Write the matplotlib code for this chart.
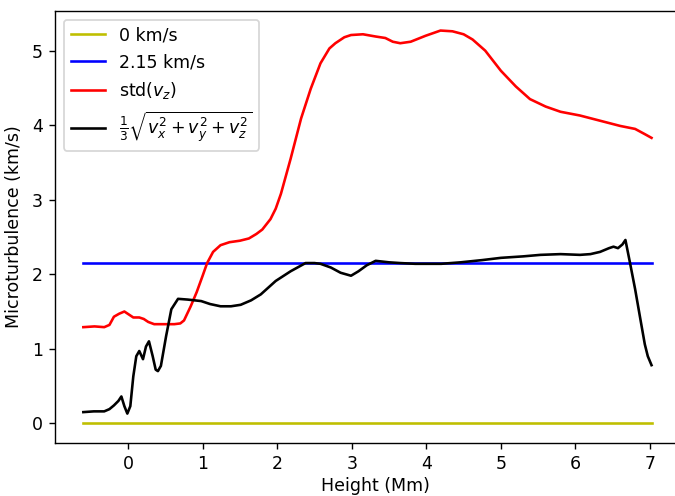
import numpy as np
import matplotlib
matplotlib.use("Agg")
import matplotlib.pyplot as plt

# height grid ends and constant reference levels
h_min, h_max = -0.60, 7.02
v_zero = 0.0
v_const = 2.15

# std(v_z) against height
h_std = [-0.60, -0.45, -0.32, -0.25, -0.19, -0.12, -0.05, 0.01, 0.07, 0.15,
         0.21, 0.27, 0.35, 0.50, 0.62, 0.70, 0.75, 0.84, 0.92, 1.00,
         1.06, 1.14, 1.24, 1.36, 1.50, 1.62, 1.72, 1.80, 1.91, 1.98,
         2.05, 2.18, 2.32, 2.45, 2.58, 2.70, 2.78, 2.90, 2.99, 3.15,
         3.32, 3.45, 3.55, 3.65, 3.79, 3.99, 4.19, 4.35, 4.50, 4.62,
         4.79, 5.00, 5.20, 5.39, 5.60, 5.80, 6.06, 6.33, 6.60, 6.80,
         6.93, 7.02]
v_std = [1.29, 1.30, 1.29, 1.32, 1.43, 1.47, 1.50, 1.46, 1.42, 1.42,
         1.40, 1.36, 1.33, 1.33, 1.33, 1.34, 1.38, 1.57, 1.76, 1.98,
         2.15, 2.30, 2.39, 2.43, 2.45, 2.48, 2.54, 2.60, 2.74, 2.88,
         3.08, 3.55, 4.09, 4.49, 4.83, 5.03, 5.10, 5.18, 5.21, 5.22,
         5.19, 5.17, 5.12, 5.10, 5.12, 5.20, 5.27, 5.26, 5.22, 5.15,
         5.00, 4.73, 4.52, 4.35, 4.25, 4.18, 4.13, 4.06, 3.99, 3.95,
         3.88, 3.83]

# one third of the velocity magnitude against height
h_rms = [-0.60, -0.46, -0.32, -0.25, -0.19, -0.13, -0.09, -0.05, -0.01, 0.03,
         0.07, 0.11, 0.15, 0.20, 0.24, 0.28, 0.33, 0.37, 0.40, 0.44,
         0.51, 0.58, 0.67, 0.80, 0.98, 1.10, 1.24, 1.38, 1.51, 1.65,
         1.78, 1.98, 2.18, 2.38, 2.50, 2.58, 2.72, 2.85, 2.99, 3.09,
         3.20, 3.32, 3.50, 3.65, 3.85, 4.06, 4.20, 4.46, 4.75, 5.00,
         5.30, 5.53, 5.80, 6.06, 6.20, 6.33, 6.45, 6.51, 6.57, 6.63,
         6.67, 6.73, 6.80, 6.87, 6.93, 6.97, 7.02]
v_rms = [0.15, 0.16, 0.16, 0.19, 0.24, 0.30, 0.36, 0.23, 0.13, 0.23,
         0.63, 0.90, 0.97, 0.86, 1.03, 1.10, 0.90, 0.72, 0.70, 0.77,
         1.17, 1.53, 1.67, 1.66, 1.64, 1.60, 1.57, 1.57, 1.59, 1.65,
         1.73, 1.91, 2.04, 2.15, 2.15, 2.14, 2.09, 2.02, 1.98, 2.04,
         2.12, 2.18, 2.16, 2.15, 2.14, 2.14, 2.14, 2.16, 2.19, 2.22,
         2.24, 2.26, 2.27, 2.26, 2.27, 2.30, 2.35, 2.37, 2.35, 2.40,
         2.46, 2.16, 1.80, 1.40, 1.06, 0.90, 0.78]

fig = plt.figure(figsize=(5.4, 3.968), dpi=125)
# axes run past the right edge of the canvas
ax = fig.add_axes([0.0815, 0.107, 0.95, 0.871])
ax.spines['right'].set_visible(False)

ax.plot([h_min, h_max], [v_zero, v_zero], color='y', label='0 km/s')
ax.plot([h_min, h_max], [v_const, v_const], color='b', label='2.15 km/s')
ax.plot(h_std, v_std, color='r', label=r'std($v_z$)')
ax.plot(h_rms, v_rms, color='k',
        label=r'$\frac{1}{3}\sqrt{v_x^2+v_y^2+v_z^2}$')

ax.set_xlim(-0.98, 7.62)
ax.set_xlabel('Height (Mm)', labelpad=2.5)
ax.set_ylabel('Microturbulence (km/s)', labelpad=5)
ax.legend(loc='upper left')

fig.savefig('out.png', dpi=125)
